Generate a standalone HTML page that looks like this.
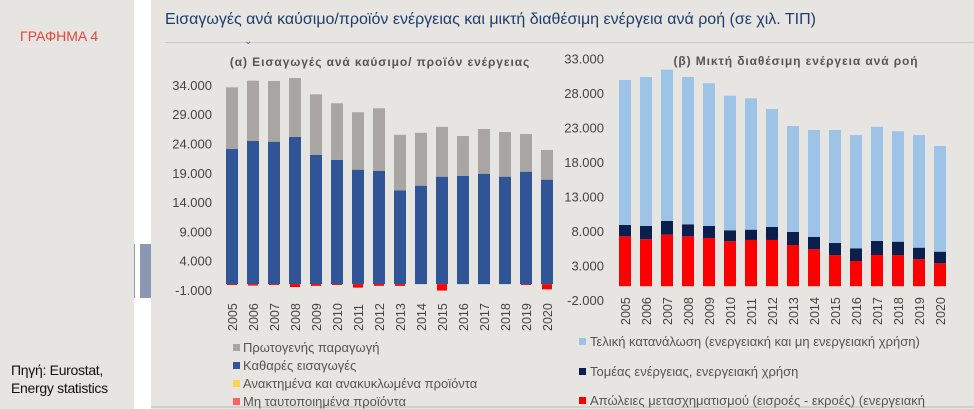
<!DOCTYPE html>
<html><head><meta charset="utf-8"><style>
body{margin:0;width:974px;height:409px;overflow:hidden;background:#e6e5e1;font-family:"Liberation Sans","DejaVu Sans",sans-serif;position:relative}
.abs{position:absolute}
</style></head><body>
<div class="abs" style="left:0;top:0;width:134px;height:409px;background:#e6e5e1"></div>
<div class="abs" style="left:20px;top:28px;color:#e0463c;font-size:14px">ΓΡΑΦΗΜΑ 4</div>
<div class="abs" style="left:11px;top:361px;color:#111;font-size:14px;line-height:18px;letter-spacing:-0.3px">Πηγή: Eurostat,<br>Energy statistics</div>
<div class="abs" style="left:134px;top:0;width:17px;height:409px;background:#fff"></div>
<div class="abs" style="left:140px;top:244px;width:11px;height:54px;background:#8a97b5"></div>
<div class="abs" style="left:134px;top:244px;width:1px;height:54px;background:#8a97b5"></div>
<div class="abs" style="left:165px;top:11px;color:#1f3d6b;font-size:16px">Εισαγωγές ανά καύσιμο/προϊόν ενέργειας και μικτή διαθέσιμη ενέργεια ανά ροή (σε χιλ. ΤΙΠ)</div>
<div class="abs" style="left:165px;top:42px;width:809px;height:1px;background:#c9c9c9"></div>
<div class="abs" style="left:244px;top:36px;color:#4a6fa5;font-size:10px">⌄</div>
<div class="abs" style="left:151px;top:406px;width:823px;height:2px;background:#cfcfcf"></div>
<svg class="abs" style="left:0;top:0" width="974" height="409" id="svg"></svg>
<script>
const years=["2005","2006","2007","2008","2009","2010","2011","2012","2013","2014","2015","2016","2017","2018","2019","2020"];
const leftTicks=[34000,29000,24000,19000,14000,9000,4000,-1000];
const primaryProd=[10530,10290,10360,10070,10360,9680,9810,10710,9470,9030,8510,6820,7630,7620,6430,5060];
const netImports=[23050,24420,24300,25100,22030,21180,19520,19300,16010,16790,18330,18450,18840,18330,19180,17820];
const otherFlow=[-150,-250,-150,-500,-300,-150,-600,-300,-300,0,-1100,0,0,0,-150,-900];
const rightTicks=[33000,28000,23000,18000,13000,8000,3000,-2000];
const finalCons=[21010,21590,21920,21350,20680,19500,19040,17090,15360,15510,16380,16420,16540,16010,16330,15320];
const energySector=[1640,1930,2000,1740,1740,1590,1490,1880,1890,1780,1780,1840,2030,1970,1680,1680];
const transLosses=[7230,6800,7460,7230,6990,6510,6700,6700,5970,5350,4480,3650,4520,4480,3900,3320];
const NS="http://www.w3.org/2000/svg";
const svg=document.getElementById('svg');
function mk(t,a,txt){const e=document.createElementNS(NS,t);for(const k in a)e.setAttribute(k,a[k]);if(txt!==undefined)e.textContent=txt;svg.appendChild(e);return e;}
const yL=v=>284.1-v*0.00586;
const xL=i=>232+i*21;
const yR=v=>286.2-v*0.0069;
const xR=i=>625+i*21;
const bw=12;
let t=mk('text',{x:380,y:66,'text-anchor':'middle','font-size':12,'font-weight':'bold',fill:'#555','letter-spacing':'0.9'},'(α) Εισαγωγές ανά καύσιμο/ προϊόν ενέργειας');

t=mk('text',{x:796,y:65,'text-anchor':'middle','font-size':12,'font-weight':'bold',fill:'#555','letter-spacing':'0.9'},'(β) Μικτή διαθέσιμη ενέργεια ανά ροή');

leftTicks.forEach(v=>{const e=mk('text',{x:212,y:yL(v)+5,'text-anchor':'end','font-size':13,fill:'#444'},v.toLocaleString('de-DE'));
});
rightTicks.forEach(v=>{const e=mk('text',{x:604,y:yR(v)+5,'text-anchor':'end','font-size':13,fill:'#444'},v.toLocaleString('de-DE'));
});
years.forEach((yr,i)=>{
 let x=xL(i);
 let b=mk('rect',{x:x-bw/2,y:yL(netImports[i]),width:bw,height:yL(0)-yL(netImports[i]),fill:'#2f5597'});
 
 b=mk('rect',{x:x-bw/2,y:yL(netImports[i]+primaryProd[i]),width:bw,height:yL(0)-yL(primaryProd[i]),fill:'#a9a5a2'});
 
 if(otherFlow[i]!==0){b=mk('rect',{x:x-bw/2+1,y:yL(0),width:bw-2,height:yL(otherFlow[i])-yL(0),fill:'#ff0000'});
 }
 let l=mk('text',{transform:`translate(${x+5},331) rotate(-90)`,'font-size':12.5,fill:'#444'},yr);
 
 x=xR(i);
 b=mk('rect',{x:x-bw/2,y:yR(transLosses[i]),width:bw,height:yR(0)-yR(transLosses[i]),fill:'#ff0000'});
 
 b=mk('rect',{x:x-bw/2,y:yR(transLosses[i]+energySector[i]),width:bw,height:yR(0)-yR(energySector[i]),fill:'#0b1f4e'});
 
 const top=transLosses[i]+energySector[i]+finalCons[i];
 b=mk('rect',{x:x-bw/2,y:yR(top),width:bw,height:yR(0)-yR(finalCons[i]),fill:'#9dc3e6'});
 
 l=mk('text',{transform:`translate(${x+5},325) rotate(-90)`,'font-size':12.5,fill:'#444'},yr);
 
});
const legL=[['Πρωτογενής παραγωγή','#a9a5a2',351],['Καθαρές εισαγωγές','#2f5597',369],['Ανακτημένα και ανακυκλωμένα προϊόντα','#ffd34d',387],['Μη ταυτοποιημένα προϊόντα','#ff6060',405]];
legL.forEach(([n,c,y])=>{let r=mk('rect',{x:233,y:y-7,width:7,height:7,fill:c});
 let e=mk('text',{x:243,y:y+1,'font-size':13,fill:'#555'},n);});
const legR=[['Τελική κατανάλωση (ενεργειακή και μη ενεργειακή χρήση)','#9dc3e6',346],['Τομέας ενέργειας, ενεργειακή χρήση','#0b1f4e',376],['Απώλειες μετασχηματισμού (εισροές - εκροές) (ενεργειακή','#ff0000',405]];
legR.forEach(([n,c,y])=>{let r=mk('rect',{x:579,y:y-8,width:7,height:7,fill:c});
 let e=mk('text',{x:590,y:y,'font-size':13,fill:'#555'},n);});
</script>
</body></html>
